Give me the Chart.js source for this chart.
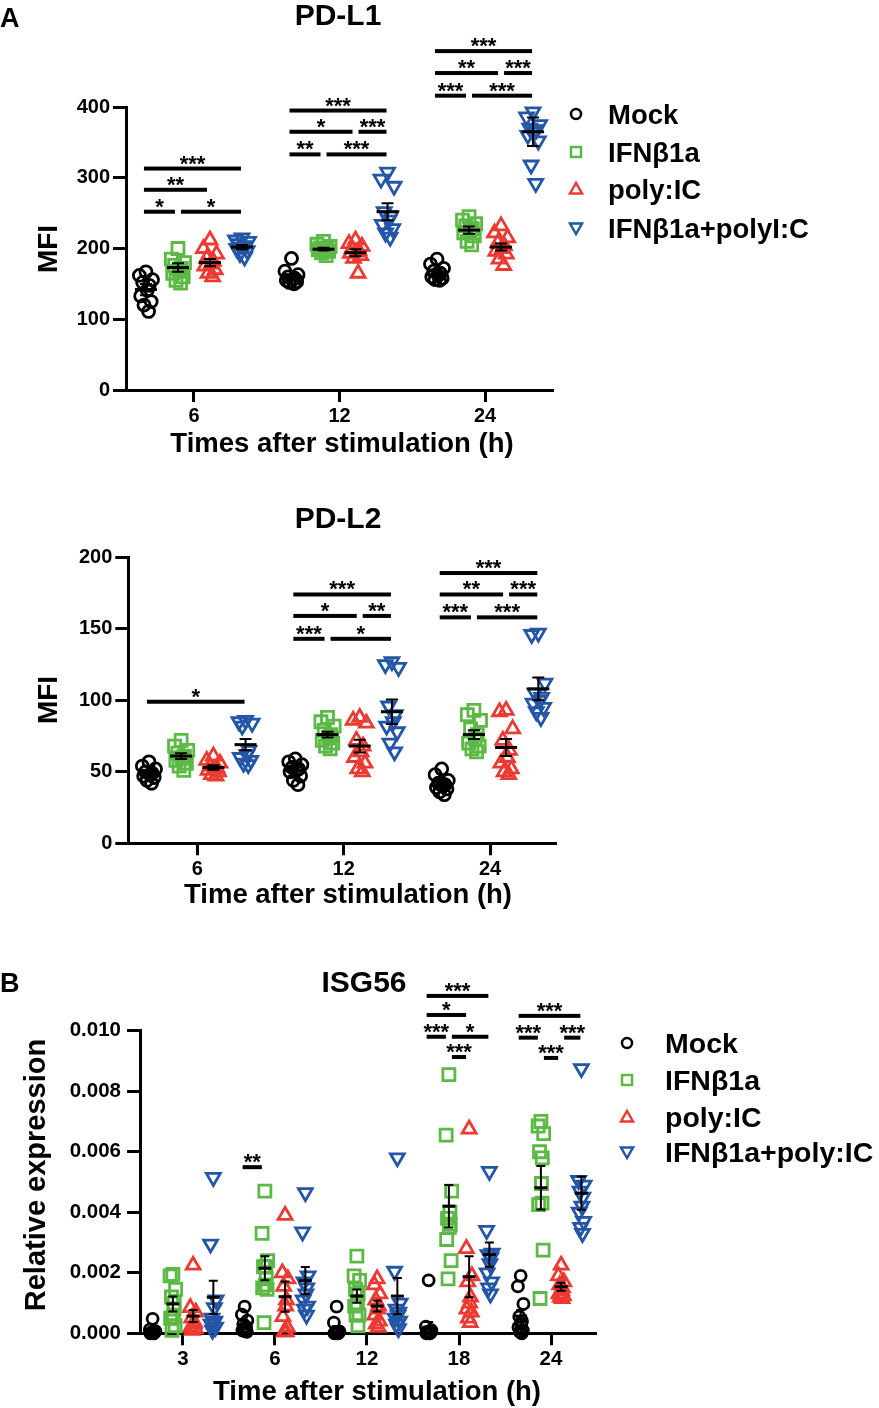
<!DOCTYPE html>
<html><head><meta charset="utf-8">
<script src="https://cdn.jsdelivr.net/npm/chart.js@4.4.1/dist/chart.umd.min.js"></script>
<style>
html,body{margin:0;padding:0;background:#fff;}
#wrap{position:relative;width:879px;height:1408px;overflow:hidden;background:#fff;}
canvas{position:absolute;left:0;}
svg{position:absolute;left:0;top:0;}
svg text{font-family:"Liberation Sans",Arial,Helvetica,sans-serif;font-weight:bold;fill:#000;}
</style></head><body>
<div id="wrap">
<canvas id="c1" width="600" height="470" style="top:0;width:600px;height:470px"></canvas>
<canvas id="c2" width="600" height="440" style="top:470px;width:600px;height:440px"></canvas>
<canvas id="c3" width="620" height="458" style="top:950px;width:620px;height:458px"></canvas>
<svg width="879" height="1408" viewBox="0 0 879 1408">
  <text x="0" y="27" font-size="27">A</text>
  <text x="338" y="25" font-size="30" text-anchor="middle">PD-L1</text>
  <text x="342" y="452" font-size="27.5" text-anchor="middle">Times after stimulation (h)</text>
  <text transform="translate(57,249) rotate(-90)" font-size="28" text-anchor="middle">MFI</text>
  <g id="legA"></g>
  <text x="338" y="528" font-size="30" text-anchor="middle">PD-L2</text>
  <text x="348" y="903" font-size="27.5" text-anchor="middle">Time after stimulation (h)</text>
  <text transform="translate(57,700) rotate(-90)" font-size="28" text-anchor="middle">MFI</text>
  <text x="0" y="992" font-size="27">B</text>
  <text x="364" y="992" font-size="30" text-anchor="middle">ISG56</text>
  <text x="377" y="1400" font-size="27.5" text-anchor="middle">Time after stimulation (h)</text>
  <text transform="translate(45,1175) rotate(-90)" font-size="29" text-anchor="middle">Relative expression</text>
  <g id="legB"></g>
</svg>
</div>
<script>
// ---------- categories / labels ----------
const seriesNamesA = ["Mock", "IFNβ1a", "poly:IC", "IFNβ1a+polyI:C"];
const seriesNamesB = ["Mock", "IFNβ1a", "poly:IC", "IFNβ1a+poly:IC"];
const timesA = ["6", "12", "24"];
const timesB = ["3", "6", "12", "18", "24"];
const pdl1YTicks = [0, 100, 200, 300, 400];
const pdl1YLabels = ["0", "100", "200", "300", "400"];
const pdl2YTicks = [0, 50, 100, 150, 200];
const pdl2YLabels = ["0", "50", "100", "150", "200"];
const isgYTicks = [0, 0.002, 0.004, 0.006, 0.008, 0.010];
const isgYLabels = ["0.000", "0.002", "0.004", "0.006", "0.008", "0.010"];

// ---------- PD-L1 (MFI), one inner list per time point ----------
const pdl1Mock  = [[167,162,156,152,148,141,133,125,120,111],[186,168,163,160,158,156,155,153,152,150],[185,178,172,168,165,162,160,158,156,155]];
const pdl1Ifn   = [[200,185,180,176,172,168,165,160,155,151],[210,206,203,201,200,199,198,196,194,190],[245,240,235,232,228,225,222,218,210,205]];
const pdl1Poly  = [[212,200,192,186,182,178,175,170,165,160],[212,207,203,200,197,195,193,190,186,165],[232,222,215,208,204,200,196,192,185,176]];
const pdl1Combo = [[215,212,210,207,204,202,200,197,193,188],[308,298,288,252,246,240,234,228,222,216],[393,386,375,370,368,365,360,352,318,292]];
// mean and SEM per time point: [Mock, IFN, poly, combo]
const pdl1Mean = [[142,173,180,202],[160,199,194,252],[163,226,202,365]];
const pdl1Sem  = [[8,6,5,3],[3,2,5,12],[3,5,5,20]];
// significance: [time index, from series, to series, MFI level, label]
const pdl1Sig = [
  [0,0,3,313,"***"],[0,0,2,283,"**"],[0,0,1,252,"*"],[0,1,3,252,"*"],
  [1,0,3,395,"***"],[1,0,2,365,"*"],[1,2,3,365,"***"],[1,0,1,333,"**"],[1,1,3,333,"***"],
  [2,0,3,479,"***"],[2,0,2,448,"**"],[2,2,3,448,"***"],[2,0,1,416,"***"],[2,1,3,416,"***"]
];

// ---------- PD-L2 (MFI) ----------
const pdl2Mock  = [[57,54,52,50,49,48,47,46,44,42],[59,57,55,53,52,51,50,47,44,41],[52,48,44,42,41,40,39,38,36,34]];
const pdl2Ifn   = [[72,68,65,63,61,60,58,56,54,51],[88,85,82,79,76,74,72,70,68,66],[93,90,86,80,76,73,70,68,66,64]];
const pdl2Poly  = [[61,58,56,54,53,52,51,50,48,47],[88,86,84,72,68,64,60,56,52,50],[93,92,80,72,65,60,56,52,50,48]];
const pdl2Combo = [[86,85,84,82,65,62,60,58,56,55],[127,125,123,96,90,85,82,78,70,64],[147,146,112,105,102,100,98,95,92,88]];
const pdl2Mean = [[49,61,53,69],[51,76,68,92],[41,76,67,108]];
const pdl2Sem  = [[1.5,2,1.5,4],[2,2,4.5,8.5],[2,3,6,8]];
const pdl2Sig = [
  [0,0,3,99,"*"],
  [1,0,3,174,"***"],[1,0,2,159,"*"],[1,2,3,159,"**"],[1,0,1,143,"***"],[1,1,3,143,"*"],
  [2,0,3,189,"***"],[2,0,2,174,"**"],[2,2,3,174,"***"],[2,0,1,158,"***"],[2,1,3,158,"***"]
];

// ---------- ISG56 (relative expression) ----------
const isgMock = [
  [0.00048,0.00012,0.00006,0.00003,0.00001,0,0,0.00008,0.00002,0],
  [0.00088,0.00062,0.00042,0.0003,0.00022,0.00015,0.0001,0.00005,0.00008,0.00018],
  [0.00088,0.00035,0.00006,0.00003,0.00001,0,0,0.00002,0.00004,0],
  [0.00175,0.00022,0.0001,0.00005,0.00002,0,0,0.00003,0.00001,0],
  [0.0019,0.00155,0.00097,0.00055,0.0004,0.0003,0.0002,0.0001,0.00005,0]
];
const isgIfn = [
  [0.00195,0.0019,0.00145,0.0012,0.001,0.00055,0.0005,0.00025,0.0001,0.0008],
  [0.0047,0.0033,0.0024,0.0022,0.0018,0.0016,0.0015,0.00145,0.00035,0.0022],
  [0.00255,0.0019,0.00175,0.00145,0.0013,0.001,0.0009,0.0006,0.0006,0.00025],
  [0.00855,0.00655,0.0047,0.0038,0.0036,0.0035,0.0031,0.0024,0.0018,0.004],
  [0.007,0.00685,0.0066,0.006,0.0058,0.00495,0.00425,0.00275,0.00115,0.0043]
];
const isgPoly = [
  [0.00225,0.00085,0.0007,0.0005,0.00035,0.0003,0.0002,0.00015,0.0001,0.0003],
  [0.0039,0.002,0.0018,0.00155,0.0011,0.0009,0.00055,0.0002,0.00005,0.00005],
  [0.0018,0.0016,0.0013,0.0011,0.0009,0.0008,0.0006,0.0004,0.0003,0.0002],
  [0.00675,0.0028,0.0019,0.0017,0.0012,0.001,0.0008,0.0007,0.0005,0.00035],
  [0.00225,0.0019,0.0017,0.0016,0.0015,0.0014,0.0013,0.00125,0.0012,0.00115]
];
const isgCombo = [
  [0.00515,0.00295,0.0011,0.0005,0.0004,0.00035,0.0003,0.0002,0.0001,0.00085],
  [0.00465,0.00335,0.0019,0.0017,0.0015,0.0013,0.0011,0.0009,0.0008,0.0006],
  [0.0058,0.00205,0.001,0.0008,0.0007,0.0006,0.0005,0.0004,0.0003,0.00015],
  [0.00535,0.0034,0.00265,0.0026,0.0025,0.0023,0.002,0.0017,0.0015,0.0013],
  [0.00875,0.00505,0.0049,0.0047,0.0045,0.0042,0.004,0.0037,0.0035,0.0033]
];
const isgMean = [[0.00008,0.00097,0.00057,0.00119],[0.0003,0.00215,0.00121,0.00174],[0.00014,0.00123,0.0009,0.00123],[0.0002,0.0042,0.00187,0.0026],[0.00057,0.00481,0.00154,0.00463]];
const isgSem  = [[0.00005,0.00025,0.0002,0.00055],[0.0001,0.0004,0.0005,0.00045],[0.0001,0.00022,0.00018,0.0006],[0.00017,0.0007,0.00068,0.0004],[0.0002,0.00072,0.00013,0.00055]];
const isgSig = [
  [1,0,1,0.00549,"**"],
  [3,0,3,0.01115,"***"],[3,0,2,0.01052,"*"],[3,0,1,0.00980,"***"],[3,1,3,0.00980,"*"],[3,1,2,0.00913,"***"],
  [4,0,3,0.01049,"***"],[4,0,1,0.00977,"***"],[4,2,3,0.00977,"***"],[4,1,2,0.00910,"***"]
];

// ---------- styling ----------
const FONT = '"Liberation Sans", Arial, Helvetica, sans-serif';
const COLORS = ["#000000", "#5CB946", "#EC3A33", "#2456A8"];
const SHAPES = ["circle", "rect", "triangle", "triangle"];
const ROTS = [0, 0, 0, 180];
const OFFS = [-0.33, -0.11, 0.11, 0.33];
const JIT = [0, -1, 1, -0.5, 0.5, 0.2, -0.8, 0.8, -0.3, 0.4];

function overlayPlugin(cfg) {
  return {
    id: 'overlay',
    afterDatasetsDraw(chart) {
      const ctx = chart.ctx, xs = chart.scales.x, ys = chart.scales.y;
      ctx.save();
      ctx.strokeStyle = '#000'; ctx.fillStyle = '#000';
      // mean +/- SEM
      cfg.mean.forEach((row, g) => row.forEach((m, s) => {
        const cx = xs.getPixelForValue(g + 1 + OFFS[s]);
        const ym = ys.getPixelForValue(m);
        const yt = ys.getPixelForValue(m + cfg.sem[g][s]);
        const yb = ys.getPixelForValue(Math.max(0, m - cfg.sem[g][s]));
        ctx.lineWidth = 2;
        ctx.beginPath();
        ctx.moveTo(cx, yt); ctx.lineTo(cx, yb);
        ctx.moveTo(cx - cfg.capW / 2, yt); ctx.lineTo(cx + cfg.capW / 2, yt);
        ctx.moveTo(cx - cfg.capW / 2, yb); ctx.lineTo(cx + cfg.capW / 2, yb);
        ctx.stroke();
        ctx.lineWidth = 3;
        ctx.beginPath();
        ctx.moveTo(cx - cfg.meanW / 2, ym); ctx.lineTo(cx + cfg.meanW / 2, ym);
        ctx.stroke();
      }));
      // significance bars
      ctx.font = 'bold ' + cfg.starSize + 'px ' + FONT;
      ctx.textAlign = 'center'; ctx.textBaseline = 'alphabetic';
      cfg.sig.forEach(([g, a, b, lvl, lab]) => {
        const x1 = xs.getPixelForValue(g + 1 + OFFS[a]) + (a > 0 ? 3 : -2);
        const x2 = xs.getPixelForValue(g + 1 + OFFS[b]) - (b < 3 ? 3 : 1);
        const y = ys.getPixelForValue(lvl);
        ctx.fillRect(x1, y - 2, x2 - x1, 4);
        ctx.fillText(lab, (x1 + x2) / 2, y + cfg.starDy);
      });
      ctx.restore();
    }
  };
}

function makeChart(id, cfg) {
  const datasets = cfg.series.map((sv, s) => ({
    label: cfg.names[s],
    data: sv.flatMap((vals, g) => vals.map((v, i) => ({ x: g + 1 + OFFS[s] + JIT[i % JIT.length] * cfg.jit, y: v }))),
    showLine: false,
    clip: false,
    pointStyle: SHAPES[s],
    pointRotation: ROTS[s],
    pointRadius: cfg.radius[s],
    pointBorderWidth: cfg.bw,
    pointBorderColor: COLORS[s],
    pointBackgroundColor: 'rgba(0,0,0,0)'
  }));
  const tickFont = { family: FONT, size: cfg.tickSize, weight: 'bold' };
  return new Chart(document.getElementById(id), {
    type: 'scatter',
    data: { datasets },
    plugins: [overlayPlugin(cfg)],
    options: {
      responsive: false, maintainAspectRatio: false, animation: false, events: [],
      layout: { padding: cfg.pad },
      plugins: { legend: { display: false }, tooltip: { enabled: false }, title: { display: false } },
      scales: {
        x: {
          type: 'linear', min: cfg.xmin, max: cfg.xmax,
          afterBuildTicks: sc => { sc.ticks = cfg.cats.map((c, i) => ({ value: i + 1 })); },
          afterFit: sc => { sc.height = 40; },
          ticks: { callback: (v, i) => cfg.cats[i], font: tickFont, color: '#000', padding: 2, maxRotation: 0, autoSkip: false },
          grid: { drawOnChartArea: false, drawTicks: true, tickLength: 12, lineWidth: 3, color: '#000' },
          border: { display: true, color: '#000', width: 3 }
        },
        y: {
          type: 'linear', min: 0, max: cfg.ymax,
          afterBuildTicks: sc => { sc.ticks = cfg.yticks.map(v => ({ value: v })); },
          afterFit: sc => { sc.width = cfg.left; },
          ticks: { callback: (v, i) => cfg.ylabels[i], font: tickFont, color: '#000', padding: cfg.ypad, autoSkip: false },
          grid: { drawOnChartArea: false, drawTicks: true, tickLength: 13, lineWidth: 3, color: '#000' },
          border: { display: true, color: '#000', width: 3 }
        }
      }
    }
  });
}

makeChart('c1', {
  names: seriesNamesA, cats: timesA, series: [pdl1Mock, pdl1Ifn, pdl1Poly, pdl1Combo],
  mean: pdl1Mean, sem: pdl1Sem, sig: pdl1Sig,
  yticks: pdl1YTicks, ylabels: pdl1YLabels, ymax: 400,
  xmin: 0.533, xmax: 3.46, left: 126, pad: { left: 0, top: 107, right: 48, bottom: 40 },
  radius: [6, 8.5, 8, 8], bw: 2.8, jit: 0.045, tickSize: 20, ypad: 3,
  meanW: 22, capW: 12, starSize: 22, starDy: 2
});
makeChart('c2', {
  names: seriesNamesA, cats: timesA, series: [pdl2Mock, pdl2Ifn, pdl2Poly, pdl2Combo],
  mean: pdl2Mean, sem: pdl2Sem, sig: pdl2Sig,
  yticks: pdl2YTicks, ylabels: pdl2YLabels, ymax: 200,
  xmin: 0.529, xmax: 3.444, left: 128.3, pad: { left: 0, top: 87.3, right: 45, bottom: 26.7 },
  radius: [6, 8.5, 8, 8], bw: 2.8, jit: 0.045, tickSize: 20, ypad: 3,
  meanW: 22, capW: 12, starSize: 22, starDy: 2
});
makeChart('c3', {
  names: seriesNamesB, cats: timesB, series: [isgMock, isgIfn, isgPoly, isgCombo],
  mean: isgMean, sem: isgSem, sig: isgSig,
  yticks: isgYTicks, ylabels: isgYLabels, ymax: 0.010,
  xmin: 0.533, xmax: 5.478, left: 140, pad: { left: 0, top: 80.7, right: 25, bottom: 34.7 },
  radius: [5.5, 8.5, 8, 8], bw: 2.8, jit: 0.03, tickSize: 20.5, ypad: 6,
  meanW: 13, capW: 9, starSize: 22, starDy: 2
});

// ---------- legends (SVG markers + text) ----------
function legend(gid, names, mx, tx, rows, fs) {
  const g = document.getElementById(gid);
  const NS = 'http://www.w3.org/2000/svg';
  names.forEach((n, s) => {
    const y = rows[s];
    let el;
    if (s === 0) { el = document.createElementNS(NS, 'circle'); el.setAttribute('cx', mx); el.setAttribute('cy', y); el.setAttribute('r', 5); }
    else if (s === 1) { el = document.createElementNS(NS, 'rect'); el.setAttribute('x', mx - 5); el.setAttribute('y', y - 5); el.setAttribute('width', 10); el.setAttribute('height', 10); }
    else {
      el = document.createElementNS(NS, 'polygon');
      const d = s === 2 ? 1 : -1;
      el.setAttribute('points', `${mx},${y - 6 * d} ${mx - 6},${y + 4.5 * d} ${mx + 6},${y + 4.5 * d}`);
    }
    el.setAttribute('fill', 'none'); el.setAttribute('stroke', COLORS[s]); el.setAttribute('stroke-width', 2.5);
    g.appendChild(el);
    const t = document.createElementNS(NS, 'text');
    t.setAttribute('x', tx); t.setAttribute('y', y + 10); t.setAttribute('font-size', fs);
    t.textContent = n;
    g.appendChild(t);
  });
}
legend('legA', seriesNamesA, 576, 608, [114, 152, 189, 228], 27.5);
legend('legB', seriesNamesB, 627, 665, [1043, 1080, 1117, 1152], 28.5);
</script>
</body></html>
